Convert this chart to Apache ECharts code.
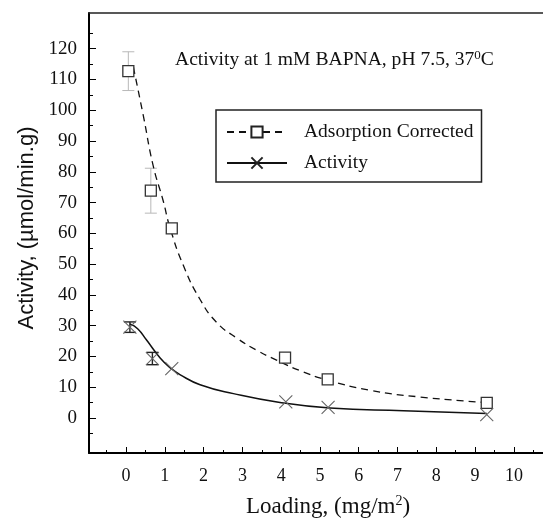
<!DOCTYPE html>
<html><head><meta charset="utf-8">
<script src="https://cdn.jsdelivr.net/npm/echarts@6/dist/echarts.min.js"></script>
<style>html,body{margin:0;padding:0;background:#fff}#c{width:543px;height:523px}</style>
</head><body><div id="c"></div>
<script>
// Measured points
const loadingSq = [0.06, 0.64, 1.18, 4.10, 5.20, 9.30];
const adsorptionCorrected = [112.7, 73.85, 61.6, 19.6, 12.5, 4.9];
const adsorptionErr = [6.3, 7.3, 0, 0, 0, 0];
const loadingX = [0.10, 0.68, 1.18, 4.12, 5.21, 9.30];
const activity = [29.5, 19.3, 16.0, 5.2, 3.4, 1.1];
const activityErr = [1.7, 2.0, 0, 0, 0, 0];
// Fitted curves
const fitAcX = [0.19, 0.45, 0.70, 0.96, 1.13, 1.48, 1.91, 2.34, 2.85, 3.37, 3.88, 4.5, 5.17, 6.29, 7.58, 9.3];
const fitAcY = [114, 98, 82, 70.5, 62, 49.5, 38.5, 31, 26, 22, 18.8, 15.3, 12.4, 9.0, 6.8, 5.0];
const fitActX = [0.10, 0.3, 0.53, 0.88, 1.15, 1.4, 1.91, 2.77, 3.97, 5.26, 7.15, 9.3];
const fitActY = [30.5, 29.0, 25.3, 19.5, 16.2, 14.0, 10.8, 7.9, 5.0, 3.2, 2.3, 1.4];
// Axis ticks
const xMajor = [0,1,2,3,4,5,6,7,8,9,10];
const xMinor = [-0.5,0.5,1.5,2.5,3.5,4.5,5.5,6.5,7.5,8.5,9.5,10.5];
const yMajor = [0,10,20,30,40,50,60,70,80,90,100,110,120];
const yMinor = [-5,5,15,25,35,45,55,65,75,85,95,105,115,125];
const seriesNames = ['Adsorption Corrected', 'Activity'];
const titleText = 'Activity at 1 mM BAPNA, pH 7.5, 37';

const SERIF = 'Liberation Serif, Times New Roman, serif';
const crossPath = 'path://M0,0L10,10M10,0L0,10';
const zip = (a, b) => a.map((v, i) => [v, b[i]]);

function errBar(color, width, cap) {
  return function (params, api) {
    const x = api.value(0), y = api.value(1), e = api.value(2);
    if (!e) return null;
    const top = api.coord([x, y + e]);
    const bot = api.coord([x, y - e]);
    const st = { stroke: color, lineWidth: width };
    return { type: 'group', children: [
      { type: 'line', shape: { x1: top[0], y1: top[1], x2: bot[0], y2: bot[1] }, style: st },
      { type: 'line', shape: { x1: top[0] - cap / 2, y1: top[1], x2: top[0] + cap / 2, y2: top[1] }, style: st },
      { type: 'line', shape: { x1: bot[0] - cap / 2, y1: bot[1], x2: bot[0] + cap / 2, y2: bot[1] }, style: st }
    ]};
  };
}

const chart = echarts.init(document.getElementById('c'), null, { renderer: 'canvas' });
const axisBase = { min: -0.954, max: 10.75, type: 'value', splitLine: { show: false } };
const yBase = { min: -11.4, max: 131.6, type: 'value', splitLine: { show: false } };
chart.setOption({
  animation: false,
  backgroundColor: '#fff',
  title: {
    text: '{t|' + titleText + '}{s|0}{t|C}',
    left: 170, top: 44,
    textStyle: { fontWeight: 'normal', rich: {
      t: { fontFamily: SERIF, fontSize: 19.6, fontWeight: 'normal', color: '#111' },
      s: { fontFamily: SERIF, fontSize: 13, fontWeight: 'normal', color: '#111', verticalAlign: 'top', padding: [0, 0, 9, 0] }
    } }
  },
  legend: {
    data: seriesNames,
    orient: 'vertical',
    left: 216, top: 110,
    padding: [12, 8, 9, 10],
    itemWidth: 60, itemHeight: 14, itemGap: 11,
    borderColor: '#222', borderWidth: 1.5,
    textStyle: { fontFamily: SERIF, fontSize: 19.5, color: '#111', padding: [0, 0, 0, 12] }
  },
  grid: { left: 89, top: 13, right: 0, bottom: 70, containLabel: false },
  xAxis: [
    Object.assign({}, axisBase, {
      position: 'bottom',
      axisLine: { show: true, onZero: false, lineStyle: { color: '#000', width: 2 } },
      axisTick: { show: true, inside: true, length: 6, customValues: xMajor, lineStyle: { color: '#000', width: 1 } },
      axisLabel: { show: true, customValues: xMajor, margin: 14, fontFamily: SERIF, fontSize: 18, color: '#111' },
      name: '{a|Loading, (mg/m}{s|2}{a|)}', nameLocation: 'middle', nameGap: 41,
      nameTextStyle: { padding: [0, 0, 0, 24], rich: {
        a: { fontFamily: SERIF, fontSize: 23, color: '#111' },
        s: { fontFamily: SERIF, fontSize: 14, color: '#111', verticalAlign: 'top', padding: [0, 0, 11, 0] }
      } }
    }),
    Object.assign({}, axisBase, {
      position: 'bottom',
      axisLine: { show: false, onZero: false },
      axisTick: { show: true, inside: true, length: 3, customValues: xMinor, lineStyle: { color: '#000', width: 1 } },
      axisLabel: { show: false }
    }),
    Object.assign({}, axisBase, {
      position: 'top',
      axisLine: { show: true, onZero: false, lineStyle: { color: '#222', width: 1.5 } },
      axisTick: { show: false }, axisLabel: { show: false }
    })
  ],
  yAxis: [
    Object.assign({}, yBase, {
      position: 'left',
      axisLine: { show: true, onZero: false, lineStyle: { color: '#000', width: 2 } },
      axisTick: { show: true, inside: true, length: 7, customValues: yMajor, lineStyle: { color: '#000', width: 1 } },
      axisLabel: { show: true, customValues: yMajor, margin: 12, fontFamily: SERIF, fontSize: 19, color: '#111' },
      name: 'Activity, (\u00b5mol/min.g)', nameLocation: 'middle', nameGap: 51, nameRotate: 90,
      nameTextStyle: { fontFamily: 'Liberation Sans, Arial, sans-serif', fontSize: 22, color: '#111', padding: [0, 0, 0, 10] }
    }),
    Object.assign({}, yBase, {
      position: 'left',
      axisLine: { show: false, onZero: false },
      axisTick: { show: true, inside: true, length: 4, customValues: yMinor, lineStyle: { color: '#000', width: 1 } },
      axisLabel: { show: false }
    })
  ],
  series: [
    {
      name: seriesNames[0], type: 'line', smooth: 0.5, silent: true,
      data: zip(fitAcX, fitAcY), showSymbol: false, symbol: 'rect', symbolSize: 11,
      lineStyle: { color: '#111', width: 1.3, type: [7, 5] },
      itemStyle: { color: '#fff', borderColor: '#222', borderWidth: 1.3 }, z: 3
    },
    {
      name: seriesNames[1], type: 'line', smooth: 0.5, silent: true,
      data: zip(fitActX, fitActY), showSymbol: false, symbol: crossPath, symbolSize: 13,
      lineStyle: { color: '#111', width: 1.5, type: 'solid' },
      itemStyle: { color: 'none', borderColor: '#222', borderWidth: 1.2 }, z: 3
    },
    {
      name: 'errAc', type: 'custom', silent: true, z: 2,
      data: loadingSq.map((x, i) => [x, adsorptionCorrected[i], adsorptionErr[i]]),
      renderItem: errBar('#b8b8b8', 1, 12)
    },
    {
      name: 'errAct', type: 'custom', silent: true, z: 4,
      data: loadingX.map((x, i) => [x, activity[i], activityErr[i]]),
      renderItem: errBar('#222', 1.4, 12)
    },
    {
      name: 'ptsAc', type: 'scatter', silent: true, z: 5,
      data: zip(loadingSq, adsorptionCorrected), symbol: 'rect', symbolSize: 11,
      itemStyle: { color: '#fff', borderColor: '#333', borderWidth: 1.3, opacity: 1 }
    },
    {
      name: 'ptsAct', type: 'scatter', silent: true, z: 5,
      data: zip(loadingX, activity), symbol: crossPath, symbolSize: 13,
      itemStyle: { color: 'none', borderColor: '#666', borderWidth: 1.1, opacity: 1 }
    }
  ]
});
</script></body></html>
